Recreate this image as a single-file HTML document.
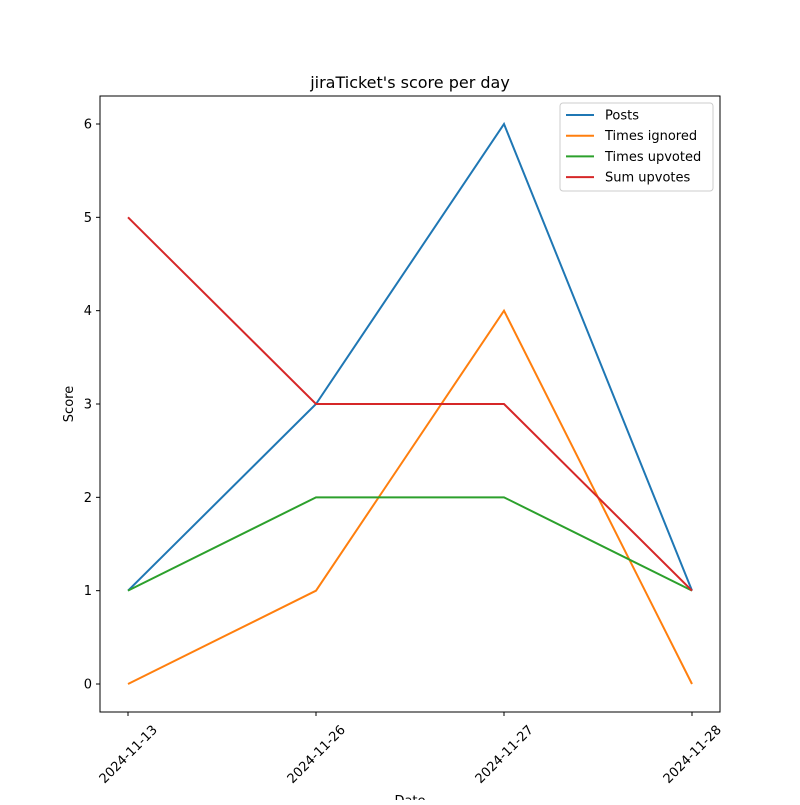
<!DOCTYPE html>
<html><head><meta charset="utf-8"><style>
body{margin:0;background:#fff}
svg{font-family:"DejaVu Sans","Liberation Sans",sans-serif}
</style></head><body>
<svg id="chart" width="800" height="800" viewBox="0 0 800 800">
<rect width="800" height="800" fill="#fff"/>
<text x="410" y="88" text-anchor="middle" font-size="16">jiraTicket's score per day</text>
<g id="marks"></g>
<rect x="100" y="96" width="620" height="616" fill="none" stroke="#000" stroke-width="1"/>
<g id="yticks"></g><g id="xticks"></g>
<text transform="translate(73,404) rotate(-90)" text-anchor="middle" font-size="13">Score</text>
<text x="410" y="805" text-anchor="middle" font-size="13">Date</text>
<g id="legend"></g>
</svg>
<script>
const categories=["2024-11-13","2024-11-26","2024-11-27","2024-11-28"];
const seriesNames=["Posts","Times ignored","Times upvoted","Sum upvotes"];
const posts=[1,3,6,1];
const timesIgnored=[0,1,4,0];
const timesUpvoted=[1,2,2,1];
const sumUpvotes=[5,3,3,1];
const yTicks=[0,1,2,3,4,5,6];
const colors=["#1f77b4","#ff7f0e","#2ca02c","#d62728"];
const series=[posts,timesIgnored,timesUpvoted,sumUpvotes];
const NS="http://www.w3.org/2000/svg";
const x=i=>128+i*188;
const y=v=>684-v*(560/6);
function mk(t,a,p){const e=document.createElementNS(NS,t);for(const k in a)e.setAttribute(k,a[k]);p.appendChild(e);return e;}
const marks=document.getElementById('marks');
series.forEach((s,si)=>{
 const p=mk('polyline',{points:s.map((v,i)=>x(i)+','+y(v)).join(' '),fill:'none',stroke:colors[si],'stroke-width':2},marks);
 
 
});
const yt=document.getElementById('yticks');
yTicks.forEach(v=>{
 const l=mk('line',{x1:96,x2:100,y1:y(v),y2:y(v),stroke:'#000'},yt);
 
 
 const t=mk('text',{x:92,y:y(v)+4.5,'text-anchor':'end','font-size':13},yt);
 t.textContent=v;
 
 
});
const xt=document.getElementById('xticks');
categories.forEach((c,i)=>{
 const l=mk('line',{x1:x(i),x2:x(i),y1:712,y2:716,stroke:'#000'},xt);
 
 
 const t=mk('text',{transform:`translate(${x(i)},${754}) rotate(-45)`,'text-anchor':'middle','dy':'0.35em','font-size':13},xt);
 t.textContent=c;
 
 
});
const lg=document.getElementById('legend');
const box=mk('rect',{x:560,y:103,width:153,height:88,rx:3,fill:'#fff',stroke:'#ccc'},lg);


seriesNames.forEach((n,i)=>{
 const yy=115+i*20.7;
 const l=mk('line',{x1:566,x2:594,y1:yy,y2:yy,stroke:colors[i],'stroke-width':2},lg);
 
 
 const t=mk('text',{x:605,y:yy+4.5,'font-size':13},lg);
 t.textContent=n;
 
 
});
</script>
</body></html>
